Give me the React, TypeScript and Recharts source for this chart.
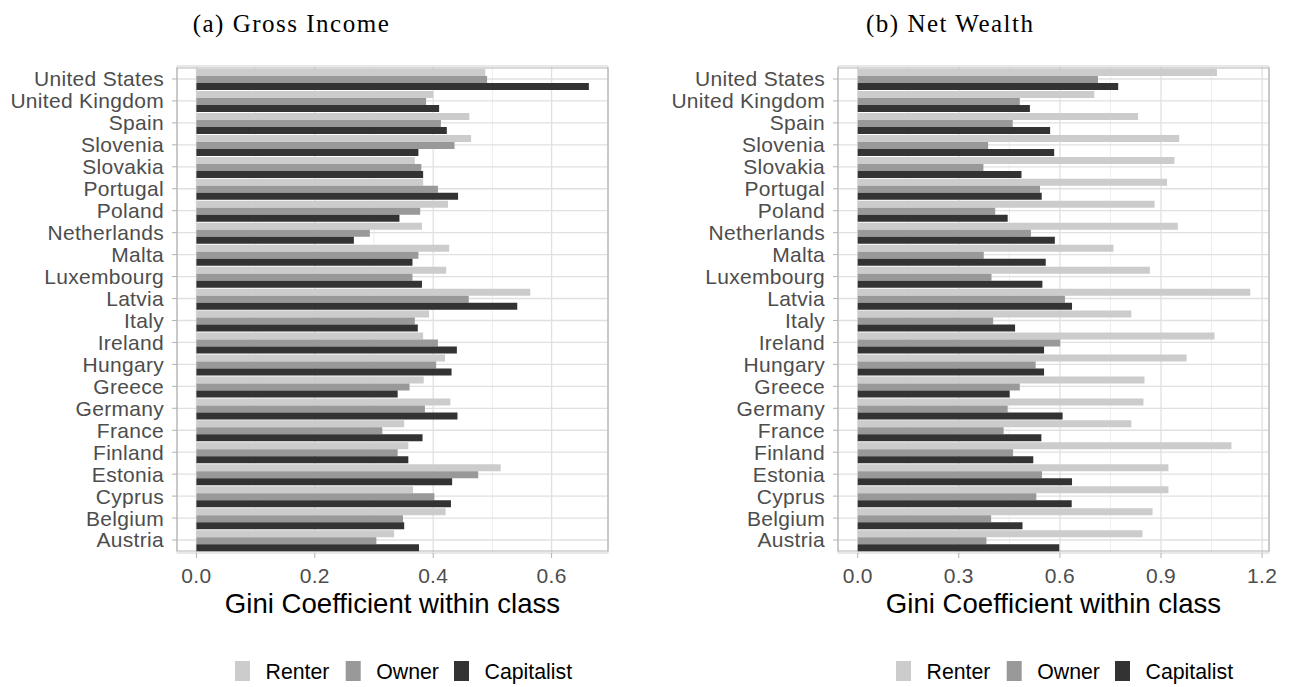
import { BarChart, Bar, XAxis, YAxis, CartesianGrid, ReferenceArea } from "recharts"

const countries = [
  "United States", "United Kingdom", "Spain", "Slovenia", "Slovakia", "Portugal",
  "Poland", "Netherlands", "Malta", "Luxembourg", "Latvia", "Italy", "Ireland",
  "Hungary", "Greece", "Germany", "France", "Finland", "Estonia", "Cyprus",
  "Belgium", "Austria",
]

// (a) Gross Income
const incomeRenter = [0.488, 0.4, 0.461, 0.464, 0.369, 0.383, 0.425, 0.381, 0.427, 0.422, 0.564, 0.393, 0.383, 0.42, 0.384, 0.429, 0.351, 0.358, 0.514, 0.366, 0.421, 0.334]
const incomeOwner = [0.491, 0.388, 0.413, 0.436, 0.38, 0.408, 0.378, 0.293, 0.375, 0.365, 0.46, 0.369, 0.408, 0.405, 0.36, 0.386, 0.314, 0.34, 0.476, 0.402, 0.349, 0.304]
const incomeCapitalist = [0.663, 0.41, 0.423, 0.375, 0.383, 0.442, 0.343, 0.266, 0.365, 0.381, 0.542, 0.374, 0.44, 0.431, 0.34, 0.441, 0.382, 0.358, 0.432, 0.43, 0.351, 0.376]

// (b) Net Wealth
const wealthRenter = [1.066, 0.702, 0.832, 0.954, 0.94, 0.918, 0.881, 0.95, 0.759, 0.867, 1.165, 0.812, 1.059, 0.976, 0.851, 0.848, 0.812, 1.109, 0.922, 0.922, 0.875, 0.845]
const wealthOwner = [0.713, 0.481, 0.46, 0.387, 0.373, 0.541, 0.408, 0.514, 0.374, 0.397, 0.615, 0.402, 0.601, 0.528, 0.481, 0.445, 0.433, 0.461, 0.547, 0.53, 0.396, 0.382]
const wealthCapitalist = [0.773, 0.511, 0.571, 0.583, 0.486, 0.546, 0.445, 0.585, 0.558, 0.548, 0.636, 0.467, 0.553, 0.553, 0.451, 0.608, 0.545, 0.521, 0.636, 0.635, 0.489, 0.598]

const incomeTicks = [0, 0.2, 0.4, 0.6]
const incomeMinor = [0.1, 0.3, 0.5]
const wealthTicks = [0, 0.3, 0.6, 0.9, 1.2]
const wealthMinor = [0.15, 0.45, 0.75, 1.05]

const classes = ["Renter", "Owner", "Capitalist"]
const COLORS = ["#cccccc", "#999999", "#333333"]

const SANS = "'Liberation Sans', Arial, sans-serif"
const SERIF = "'Liberation Serif', 'Times New Roman', serif"

const build = (r: number[], o: number[], c: number[]) =>
  countries.map((country, i) => ({ country, renter: r[i], owner: o[i], capitalist: c[i] }))

const incomeData = build(incomeRenter, incomeOwner, incomeCapitalist)
const wealthData = build(wealthRenter, wealthOwner, wealthCapitalist)

function Panel({ data, domain, ticks, minor, left, width, right }: any) {
  return (
    <div style={{ position: "absolute", left, top: 0 }}>
      <BarChart
        width={width}
        height={687}
        data={data}
        layout="vertical"
        margin={{ top: 66, right, bottom: 69, left: 0 }}
        barCategoryGap="5%"
        barGap={0}
      >
        <CartesianGrid horizontal={false} verticalValues={minor} stroke="#eeeeee" strokeWidth={1} />
        <CartesianGrid stroke="#e0e0e0" strokeWidth={1.3} />
        <XAxis
          type="number"
          domain={domain}
          ticks={ticks}
          allowDataOverflow
          interval={0}
          tickFormatter={(v: number) => v.toFixed(1)}
          tickSize={5}
          tickMargin={10}
          axisLine={false}
          tickLine={{ stroke: "#b3b3b3" }}
          tick={{ fill: "#4d4d4d", fontSize: 21, letterSpacing: 0.3, fontFamily: SANS }}
          height={65}
          label={{
            value: "Gini Coefficient within class",
            position: "insideBottom",
            offset: 5,
            fill: "#000000",
            fontSize: 27.6,
            fontFamily: SANS,
          }}
        />
        <YAxis
          type="category"
          dataKey="country"
          width={177}
          interval={0}
          padding={{ top: 2, bottom: 2 }}
          tickSize={5}
          tickMargin={8}
          axisLine={false}
          tickLine={{ stroke: "#b3b3b3" }}
          tick={{ fill: "#4d4d4d", fontSize: 21, letterSpacing: 0.3, fontFamily: SANS }}
        />
        <Bar dataKey="renter" fill={COLORS[0]} isAnimationActive={false} />
        <Bar dataKey="owner" fill={COLORS[1]} isAnimationActive={false} />
        <Bar dataKey="capitalist" fill={COLORS[2]} isAnimationActive={false} />
        <ReferenceArea x1={domain[0]} x2={domain[1]} fill="none" stroke="#b3b3b3" strokeWidth={1.2} ifOverflow="visible" />
      </BarChart>
    </div>
  )
}

const legendOffsets = [0, 110.7, 219]

function Legend({ x }: { x: number }) {
  return (
    <g>
      {classes.map((name, i) => (
        <g key={name}>
          <rect x={x + legendOffsets[i]} y={661} width={15} height={20} fill={COLORS[i]} />
          <text x={x + legendOffsets[i] + 30.5} y={678.5} fontSize={21.3} fontFamily={SANS} fill="#000">
            {name}
          </text>
        </g>
      ))}
    </g>
  )
}

export default function App() {
  return (
    <div style={{ position: "absolute", left: 0, top: 0, width: 1298, height: 687, background: "#fff" }}>
      <Panel data={incomeData} domain={[-0.0328, 0.6953]} ticks={incomeTicks} minor={incomeMinor} left={0} width={620} right={12} />
      <Panel data={wealthData} domain={[-0.0585, 1.2205]} ticks={wealthTicks} minor={wealthMinor} left={661} width={637} right={29} />
      <svg width={1298} height={687} style={{ position: "absolute", left: 0, top: 0, pointerEvents: "none" }}>
        <text x={192.7} y={31.7} fontSize={25} letterSpacing={1.5} fontFamily={SERIF} fill="#000">
          (a) Gross Income
        </text>
        <text x={866} y={31.7} fontSize={25} letterSpacing={1.5} fontFamily={SERIF} fill="#000">
          (b) Net Wealth
        </text>
        <Legend x={235} />
        <Legend x={896} />
      </svg>
    </div>
  )
}
